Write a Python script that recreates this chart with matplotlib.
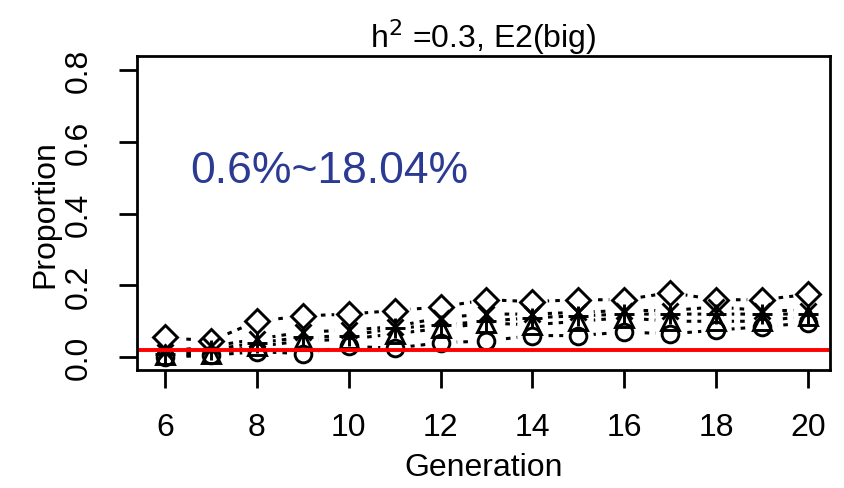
import matplotlib
matplotlib.use("Agg")
import matplotlib.pyplot as plt

plt.rcParams['font.family'] = ['Liberation Sans', 'DejaVu Sans']

generations = [6, 7, 8, 9, 10, 11, 12, 13, 14, 15, 16, 17, 18, 19, 20]
circle_vals = [0.000, 0.005, 0.015, 0.010, 0.030, 0.025, 0.040, 0.045, 0.060, 0.060, 0.070, 0.065, 0.075, 0.085, 0.095]
triangle_vals = [0.005, 0.010, 0.030, 0.045, 0.050, 0.065, 0.080, 0.095, 0.090, 0.100, 0.110, 0.100, 0.100, 0.100, 0.115]
plus_vals = [0.010, 0.020, 0.040, 0.055, 0.060, 0.080, 0.090, 0.100, 0.110, 0.115, 0.120, 0.120, 0.120, 0.120, 0.120]
x_vals = [0.015, 0.030, 0.050, 0.070, 0.075, 0.085, 0.110, 0.120, 0.120, 0.125, 0.130, 0.130, 0.140, 0.130, 0.130]
diamond_vals = [0.055, 0.045, 0.100, 0.115, 0.120, 0.130, 0.140, 0.160, 0.155, 0.160, 0.160, 0.180, 0.160, 0.160, 0.175]
threshold = 0.02
title = r"h$^2$ =0.3, E2(big)"
annotation = "0.6%~18.04%"

fig = plt.figure(figsize=(8.44, 4.89), dpi=100)
ax = fig.add_axes([0.1623, 0.2413, 0.8211, 0.6421])

series = [
    (circle_vals, 'o', 12),
    (triangle_vals, '^', 13),
    (plus_vals, '+', 15),
    (x_vals, 'x', 12),
    (diamond_vals, 'D', 12),
]
# dotted connecting lines
for vals, m, ms in series:
    ax.plot(generations, vals, linestyle=(0, (1.5, 2.0)), color='black', lw=2.2, zorder=2)
# white gaps around points (R type="b")
for vals, m, ms in series:
    ax.plot(generations, vals, linestyle='none', marker='o', markersize=22,
            markerfacecolor='white', markeredgecolor='none', zorder=3)
# markers
for vals, m, ms in series:
    ax.plot(generations, vals, linestyle='none',
            marker=m, markersize=ms, markerfacecolor='none', markeredgecolor='black',
            markeredgewidth=2.1, zorder=5)
# red threshold
ax.axhline(threshold, color='red', lw=2.8, zorder=5.5)

ax.set_xlim(5.39, 20.48)
ax.set_ylim(-0.036, 0.84)
ax.set_xticks([6, 8, 10, 12, 14, 16, 18, 20])
ax.set_yticks([0.0, 0.2, 0.4, 0.6, 0.8])
ax.set_yticklabels(['0.0', '0.2', '0.4', '0.6', '0.8'], rotation=90, va='center')
ax.tick_params(labelsize=23, length=13, width=2)
ax.tick_params(axis='x', pad=17)
ax.tick_params(axis='y', pad=18)
for s in ax.spines.values():
    s.set_linewidth(2)
    s.set_zorder(6)
ax.set_xlabel("Generation", fontsize=23)
ax.set_ylabel("Proportion", fontsize=23)
ax.xaxis.set_label_coords(0.5, -0.262)
ax.yaxis.set_label_coords(-0.111, 0.5)
ax.set_title(title, fontsize=23, pad=5)
ax.text(6.54, 0.52, annotation, fontsize=32, color='#2B3B93', va='center', ha='left')

fig.savefig("out.png", dpi=100)
